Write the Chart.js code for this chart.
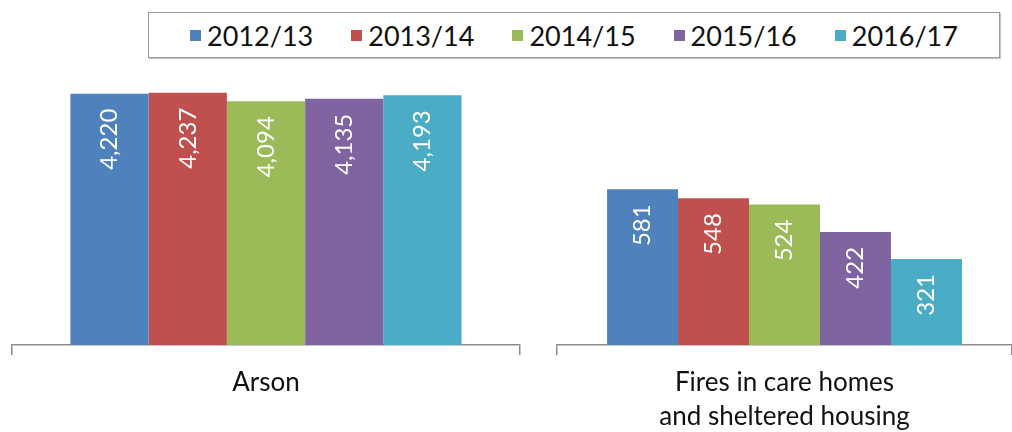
<!DOCTYPE html>
<html>
<head>
<meta charset="utf-8">
<script src="https://cdn.jsdelivr.net/npm/chart.js@4.4.0/dist/chart.umd.min.js"></script>
<style>
  body { margin: 0; background: #fff; font-family: Lato, sans-serif; }
  #wrap { position: relative; width: 1012px; height: 432px; overflow: hidden; }
  canvas { position: absolute; top: 0; }
  #left { left: 0; }
  #right { left: 530px; }
  #legend {
    position: absolute; left: 148px; top: 12px; width: 850px; height: 44px;
    border: 1px solid #9a9a9a; box-shadow: 1px 1px 1px #c8c8c8;
    display: flex; align-items: center; justify-content: center;
    font-size: 27px; color: #111;
  }
  .item { display: flex; align-items: center; margin: 0 19px; }
  .box { width: 11px; height: 11px; margin-right: 6px; }
</style>
</head>
<body>
<div id="wrap">
  <div id="legend"></div>
  <canvas id="left" width="530" height="432"></canvas>
  <canvas id="right" width="482" height="432"></canvas>
</div>
<script>
// years (one dataset each)
const years = ['2012/13', '2013/14', '2014/15', '2015/16', '2016/17'];
const arson = [4220, 4237, 4094, 4135, 4193];
const careHomes = [581, 548, 524, 422, 321];
const leftLabel = ['Arson'];
const rightLabel = [['Fires in care homes', 'and sheltered housing']];

const colours = ['#4F81BD', '#C0504D', '#9BBB59', '#8064A2', '#4BACC6'];

// legend shared by both panels
const legend = document.getElementById('legend');
years.forEach((y, i) => {
  const item = document.createElement('div');
  item.className = 'item';
  const box = document.createElement('span');
  box.className = 'box';
  box.style.background = colours[i];
  const txt = document.createElement('span');
  txt.textContent = y;
  item.appendChild(box);
  item.appendChild(txt);
  legend.appendChild(item);
});

// white rotated value labels inside the top of each bar
const barLabels = {
  id: 'barLabels',
  afterDatasetsDraw(chart) {
    const ctx = chart.ctx;
    ctx.save();
    ctx.fillStyle = '#fff';
    ctx.font = '24px Lato';
    ctx.textAlign = 'right';
    ctx.textBaseline = 'middle';
    chart.data.datasets.forEach((ds, i) => {
      chart.getDatasetMeta(i).data.forEach((bar, j) => {
        const txt = ds.data[j].toLocaleString('en-GB');
        ctx.save();
        ctx.translate(bar.x, bar.y + 15);
        ctx.rotate(-Math.PI / 2);
        ctx.fillText(txt, 0, 0);
        ctx.restore();
      });
    });
    ctx.restore();
  }
};

function makeChart(id, labels, values, max, padLeft, padRight, catPct) {
  const datasets = years.map((y, i) => ({
    label: y,
    data: [values[i]],
    backgroundColor: colours[i],
    barPercentage: 1,
    categoryPercentage: catPct,
  }));

  return new Chart(document.getElementById(id), {
    type: 'bar',
    data: { labels: labels, datasets: datasets },
    plugins: [barLabels],
    options: {
      responsive: false,
      animation: false,
      devicePixelRatio: 1,
      layout: { padding: { top: 77, left: padLeft, right: padRight, bottom: 0 } },
      plugins: { legend: { display: false }, tooltip: { enabled: false } },
      scales: {
        x: {
          afterFit: (s) => { s.height = 87; },
          border: { display: true, color: '#8c8c8c', width: 1.5 },
          grid: { display: true, offset: true, drawOnChartArea: false, drawTicks: true, tickLength: 10, color: '#8c8c8c', lineWidth: 1.5 },
          ticks: { color: '#111', padding: 11, font: { family: 'Lato', size: 26, lineHeight: 1.3 } },
        },
        y: { display: false, min: 0, max: max },
      },
    },
  });
}

makeChart('left', leftLabel, arson, 4500, 12, 10, 0.77);
makeChart('right', rightLabel, careHomes, 1000, 27, 0, 0.78);
</script>
</body>
</html>
